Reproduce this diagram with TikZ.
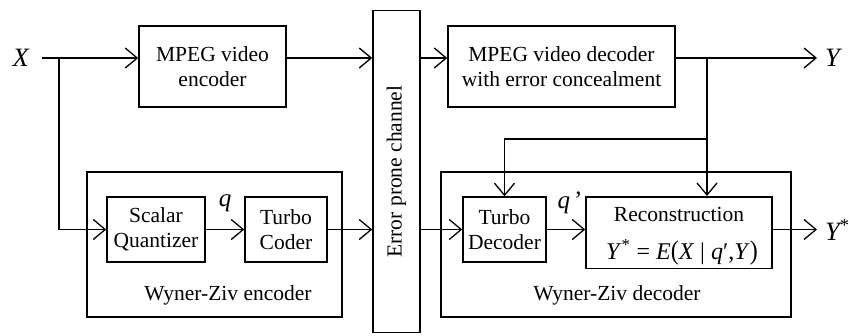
\documentclass[tikz,border=0pt]{standalone}
\usepackage{fontspec}
\setmainfont{Liberation Serif}
\usetikzlibrary{arrows.meta,calc}
\begin{document}
\begin{tikzpicture}[x=1pt,y=-1pt,
  every node/.style={font=\fontsize{21.5}{25.5}\selectfont},
  blk/.style={draw, line width=1.5pt, inner sep=0pt, align=center},
  outer/.style={draw, line width=1.1pt, inner sep=0pt},
  lbl/.style={inner sep=0pt, font=\fontsize{26.5}{28}\selectfont\itshape},
  arr/.style={line width=1.3pt, -{Straight Barb[length=12pt,width=20pt,line width=1.3pt]}},
  ln/.style={line width=1.3pt}]
\useasboundingbox (0,0) rectangle (849,335);
% outer boxes
\node[outer, minimum width=255, minimum height=145] (wze) at (214.5,244.5) {};
\node[outer, minimum width=350, minimum height=145] (wzd) at (616,244.5) {};
\node[inner sep=0pt] (wzel) at (228,295) {Wyner-Ziv encoder};
\node[inner sep=0pt] (wzdl) at (617,295) {Wyner-Ziv decoder};
% blocks
\node[blk, minimum width=147, minimum height=81] (enc) at (212.5,66.5) {MPEG video\\encoder};
\node[blk, minimum width=47, minimum height=322] (ch) at (396.5,171.5) {};
\node[rotate=90, inner sep=0pt] (chl) at (ch.center) {Error prone channel};
\node[blk, minimum width=227, minimum height=81] (dec) at (561.5,66.5) {MPEG video decoder\\with error concealment};
\node[blk, minimum width=98, minimum height=65] (sq) at (156,229.5) {Scalar\\Quantizer};
\node[blk, minimum width=82, minimum height=65] (tc) at (286,229.5) {Turbo\\Coder};
\node[blk, minimum width=83, minimum height=65] (td) at (504.5,229.5) {Turbo\\Decoder};
\node[blk, minimum width=186, minimum height=71.5] (rec) at (679,232.5) {};
\node[inner sep=0pt] (recl) at (679,214) {Reconstruction};
\node[inner sep=0pt, font=\fontsize{24}{26}\selectfont] (receq) at (682,252)
  {\textit{Y}\textsuperscript{*}\ =\ \textit{E}\scalebox{1}[1.12]{(}\textit{X}\ |\ \textit{q}′,\textit{Y}\scalebox{1}[1.12]{)}};
% labels
\node[lbl, anchor=east] (X) at (29,58) {X};
\node[lbl, anchor=west, inner xsep=8pt] (Y) at (817,58) {Y};
\node[lbl, anchor=west, inner xsep=8pt] (Ys) at (817,229.5) {Y\textsuperscript{\upshape *}};
\node[lbl, font=\fontsize{25}{28}\selectfont\itshape] (q) at (225,203) {q};
\node[lbl, font=\fontsize{25}{28}\selectfont\itshape] (qp) at (570,203) {q\,\upshape ’};
% connectors
\coordinate (xin) at (42,58);
\coordinate (b1) at (59,58);
\coordinate (b2) at (707,58);
\coordinate (b3) at (707,139);
\draw[arr] (xin) -- (xin -| enc.west);
\draw[arr] (b1) |- (sq.west);
\draw[arr] (xin -| enc.east) -- (xin -| ch.west);
\draw[arr] (sq.east) -- (tc.west);
\draw[arr] (tc.east) -- (tc.east -| ch.west);
\draw[arr] (xin -| ch.east) -- (xin -| dec.west);
\draw[arr] (ch.east |- td.west) -- (td.west);
\draw[arr] (xin -| dec.east) -- (xin -| Y.west);
\draw[arr] (b2) -- (b2 |- rec.north);
\draw[arr] (b3) -| (td.north);
\draw[arr] (td.east) -- (td.east -| rec.west);
\draw[arr] (td.east -| rec.east) -- (Ys.west);
\end{tikzpicture}
\end{document}
